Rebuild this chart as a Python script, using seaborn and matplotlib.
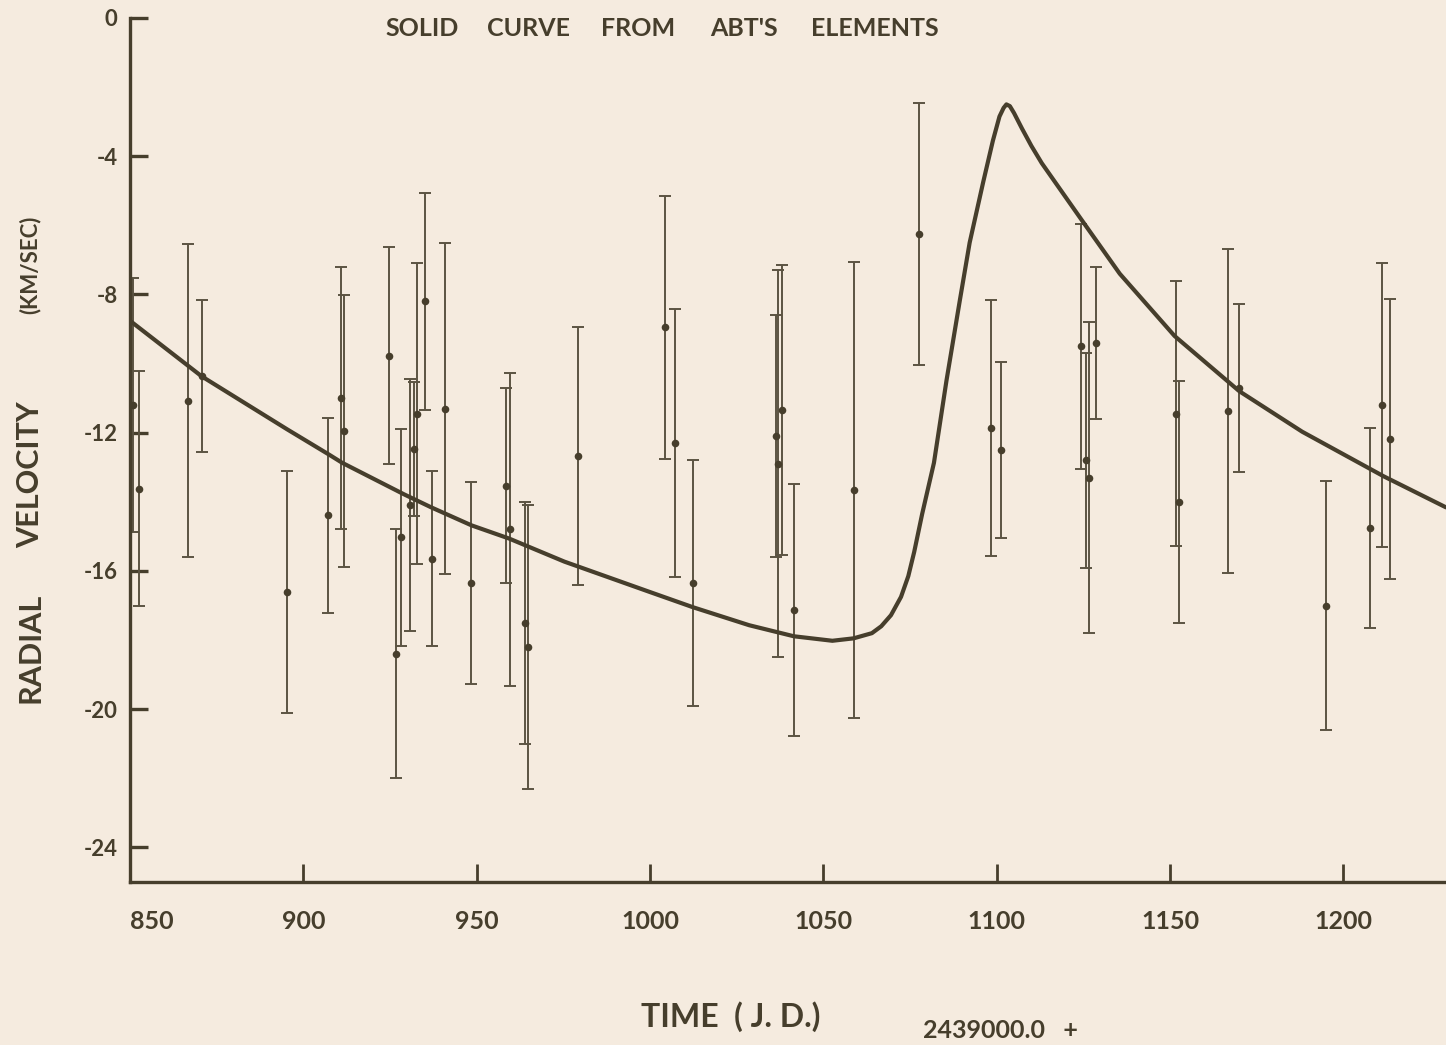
import numpy as np
import pandas as pd
import matplotlib
matplotlib.use("Agg")
import matplotlib.pyplot as plt
import seaborn as sns

# ---- data ----
obs_day = [850.8, 852.6, 866.8, 870.7, 895.3, 907.2, 910.8, 911.8, 924.7, 926.6,
           928.2, 930.8, 931.8, 932.8, 935.2, 937.0, 940.9, 948.5, 958.6, 959.6,
           963.9, 964.9, 979.3, 1004.2, 1007.2, 1012.4, 1036.2, 1036.9, 1038.0, 1041.5,
           1058.7, 1077.6, 1098.4, 1101.3, 1124.4, 1125.8, 1126.5, 1128.6, 1151.8, 1152.7,
           1166.6, 1170.0, 1195.0, 1207.7, 1211.2, 1213.4]
obs_vel = [-11.2, -13.62, -11.07, -10.37, -16.6, -14.39, -11.0, -11.95, -9.77, -18.4,
           -15.03, -14.1, -12.47, -11.45, -8.2, -15.64, -11.3, -16.35, -13.54, -14.8,
           -17.5, -18.2, -12.68, -8.95, -12.3, -16.35, -12.1, -12.9, -11.35, -17.12,
           -13.65, -6.25, -11.87, -12.5, -9.5, -12.8, -13.3, -9.4, -11.45, -14.0,
           -11.37, -10.7, -17.0, -14.75, -11.2, -12.17]
obs_err = [3.67, 3.4, 4.52, 2.2, 3.5, 2.82, 3.8, 3.93, 3.13, 3.6,
           3.15, 3.64, 1.95, 4.35, 3.15, 2.53, 4.8, 2.92, 2.82, 4.53,
           3.5, 4.1, 3.73, 3.8, 3.87, 3.55, 3.5, 5.6, 4.2, 3.65,
           6.6, 3.78, 3.7, 2.55, 3.55, 3.1, 4.5, 2.2, 3.84, 3.5,
           4.7, 2.43, 3.6, 2.9, 4.1, 4.05]

curve_day = [850.0, 870.7, 895.3, 907.2, 911.2, 929.0, 936.9, 948.5, 959.3, 975.3,
             999.7, 1012.4, 1028.6, 1041.5, 1052.6, 1058.7, 1064.0, 1066.7, 1069.5, 1072.4,
             1074.5, 1076.2, 1078.5, 1081.9, 1085.5, 1089.4, 1092.2, 1096.1, 1098.9, 1100.8,
             1102.0, 1102.8, 1103.8, 1105.0, 1107.3, 1110.0, 1113.0, 1118.6, 1124.2, 1135.5,
             1151.3, 1170.0, 1188.1, 1211.6, 1229.6]
curve_vel = [-8.76, -10.37, -11.9, -12.62, -12.87, -13.78, -14.16, -14.68, -15.06, -15.73,
             -16.6, -17.05, -17.57, -17.89, -18.02, -17.95, -17.8, -17.6, -17.28, -16.75,
             -16.15, -15.45, -14.35, -12.87, -10.5, -8.15, -6.5, -4.75, -3.55, -2.85,
             -2.6, -2.5, -2.55, -2.75, -3.2, -3.7, -4.2, -5.0, -5.8, -7.4,
             -9.2, -10.8, -11.97, -13.26, -14.16]

x_ticks = [850, 900, 950, 1000, 1050, 1100, 1150, 1200]
y_ticks = [0, -4, -8, -12, -16, -20, -24]

title_words = ["SOLID", "CURVE", "FROM", "ABT'S", "ELEMENTS"]
ylabel_words = ["RADIAL", "VELOCITY"]
ylabel_unit = "(KM/SEC)"
xlabel_main = "TIME  ( J. D.)"
xlabel_offset = "2439000.0   +"

# ---- styling ----
paper = "#f5ebdf"
ink = "#463e2c"
bar_ink = "#5b5342"

sns.set_theme(style="ticks")
plt.rcParams["font.family"] = ["Lato", "DejaVu Sans"]
plt.rcParams["font.weight"] = "bold"

W, H = 1446, 1045
fig = plt.figure(figsize=(W / 100, H / 100), dpi=100, facecolor=paper)
ax = fig.add_axes([130 / W, 1 - 882 / H, 1 - 130 / W, (882 - 18) / H])
ax.set_facecolor(paper)

obs = pd.DataFrame({"day": obs_day, "vel": obs_vel, "err": obs_err})
curve = pd.DataFrame({"day": curve_day, "vel": curve_vel})

ax.errorbar(obs["day"], obs["vel"], yerr=obs["err"], fmt="none",
            ecolor=bar_ink, elinewidth=1.4, capsize=4.6, capthick=1.4, zorder=2)
sns.scatterplot(data=obs, x="day", y="vel", ax=ax, color=ink, s=30,
                edgecolor=ink, linewidth=0, zorder=3)
sns.lineplot(data=curve, x="day", y="vel", ax=ax, sort=False, estimator=None,
             color=ink, linewidth=3.0, zorder=4,
             solid_joinstyle="round", solid_capstyle="round")

ax.set_xlim(850, 1229.6)
ax.set_ylim(-25, 0)
ax.set_xticks(x_ticks)
ax.set_yticks(y_ticks)
ax.set_xticklabels([str(t) for t in x_ticks])
ax.set_yticklabels([str(t) for t in y_ticks])
ax.set_xlabel("")
ax.set_ylabel("")

for side in ["top", "right"]:
    ax.spines[side].set_visible(False)
for side in ["left", "bottom"]:
    ax.spines[side].set_color(ink)
    ax.spines[side].set_linewidth(2.4)

ax.tick_params(axis="y", direction="in", length=13, width=2.4, color=ink,
               labelsize=16, labelcolor=ink, pad=9)
ax.tick_params(axis="x", direction="in", length=13, width=2.0, color=ink,
               labelsize=18, labelcolor=ink, pad=20)
for lab in ax.get_xticklabels() + ax.get_yticklabels():
    lab.set_fontweight("bold")
ax.get_xticklabels()[0].set_horizontalalignment("left")

# title words placed as in the reference
for word, xc in zip(title_words, [422, 528, 638, 744, 875]):
    fig.text(xc / W, 1 - 28 / H, word, ha="center", va="center",
             fontsize=18, color=ink, fontweight="bold")

for word, yc in zip(ylabel_words, [648, 475]):
    fig.text(30 / W, 1 - yc / H, word, rotation=90, ha="center", va="center",
             fontsize=22, color=ink, fontweight="bold")
fig.text(30 / W, 1 - 265 / H, ylabel_unit, rotation=90, ha="center", va="center",
         fontsize=16, color=ink, fontweight="bold")
fig.text(731 / W, 1 - 1017 / H, xlabel_main, ha="center", va="center",
         fontsize=23, color=ink, fontweight="bold")
fig.text(1000 / W, 1 - 1030 / H, xlabel_offset, ha="center", va="center",
         fontsize=18, color=ink, fontweight="bold")

fig.savefig("out.png", dpi=100, facecolor=paper)
